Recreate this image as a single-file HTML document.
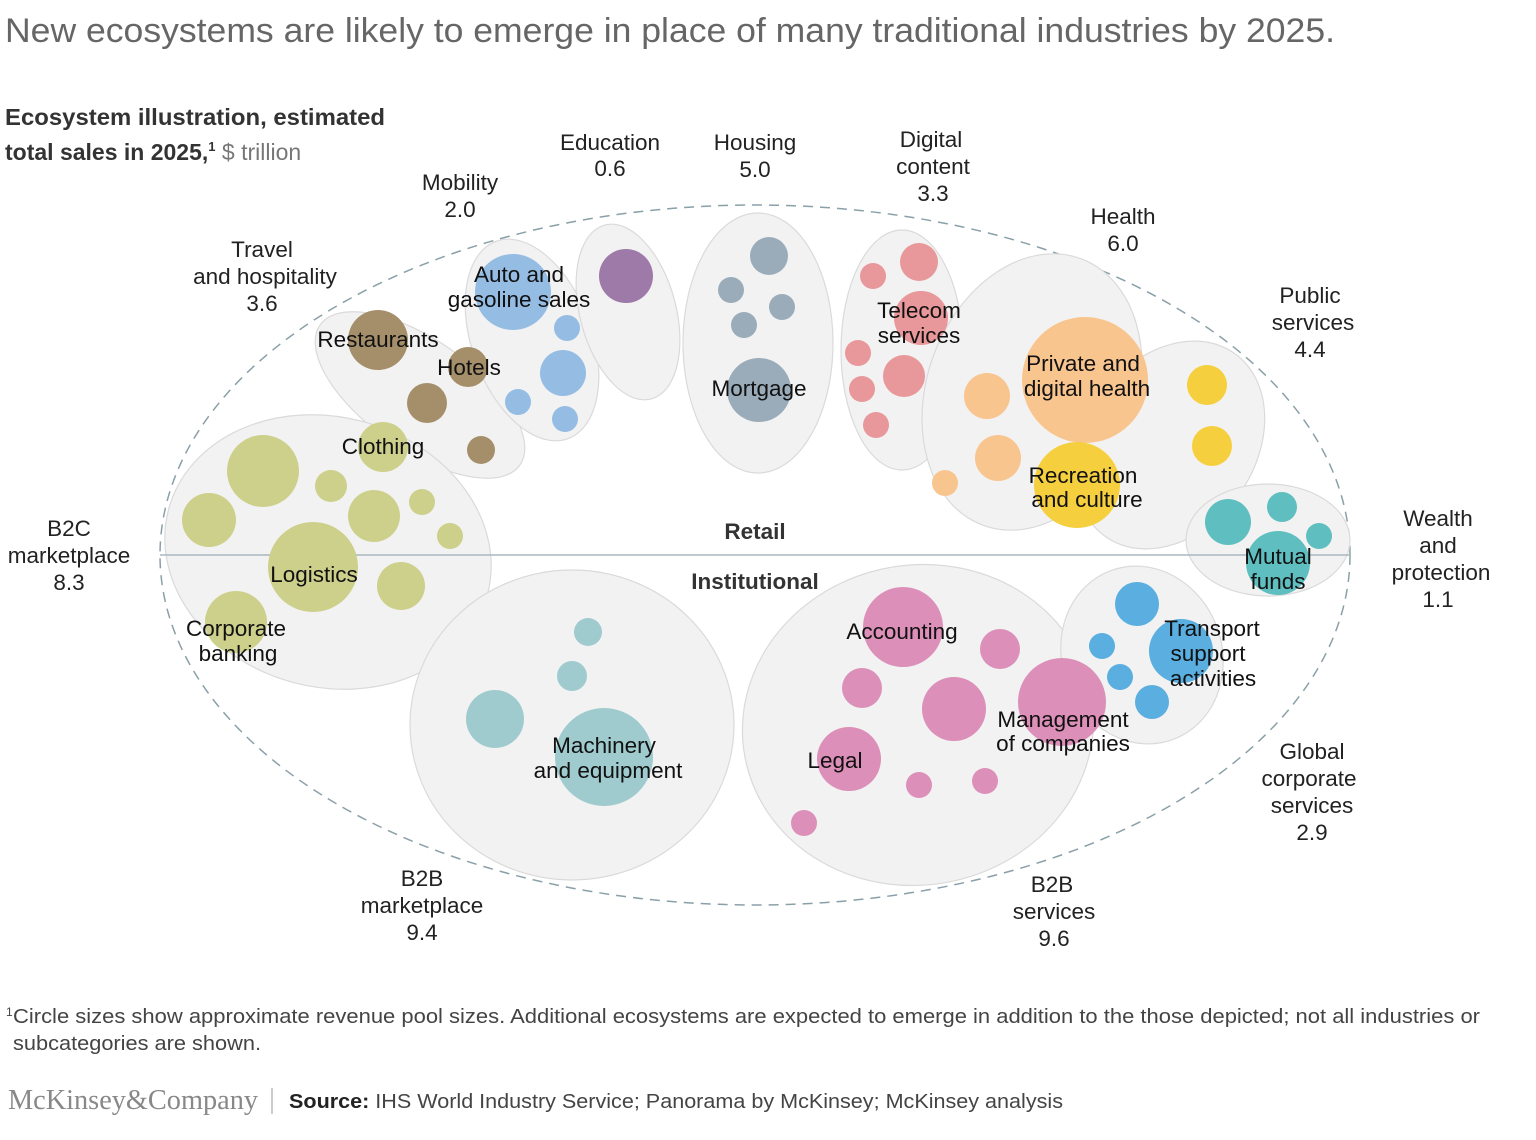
<!DOCTYPE html>
<html><head><meta charset="utf-8"><style>
body{margin:0;background:#fff;}
svg text{font-family:"Liberation Sans",Arial,sans-serif;}
</style></head><body>
<svg width="1536" height="1135" viewBox="0 0 1536 1135" xmlns="http://www.w3.org/2000/svg">
<text x="5" y="42" font-size="34" fill="#666" textLength="1330" lengthAdjust="spacingAndGlyphs">New ecosystems are likely to emerge in place of many traditional industries by 2025.</text>
<text x="5" y="125" font-size="23" font-weight="bold" fill="#333" textLength="380" lengthAdjust="spacingAndGlyphs">Ecosystem illustration, estimated</text>
<text x="5" y="160" font-size="23" font-weight="bold" fill="#333">total sales in 2025,<tspan font-size="13" dy="-9">1</tspan><tspan dy="9" font-weight="normal" fill="#777"> $ trillion</tspan></text>

<ellipse cx="755" cy="555" rx="595" ry="350" fill="none" stroke="#8aa0a8" stroke-width="1.5" stroke-dasharray="10,7"/>
<g fill="#f2f2f2" stroke="#dadada" stroke-width="1.2">
<ellipse cx="420" cy="395" rx="122" ry="55" transform="rotate(35 420 395)"/>
<ellipse cx="532" cy="340" rx="60" ry="105" transform="rotate(-20 532 340)"/>
<ellipse cx="628" cy="312" rx="48" ry="90" transform="rotate(-15 628 312)"/>
<ellipse cx="758" cy="343" rx="75" ry="130"/>
<ellipse cx="902" cy="350" rx="61" ry="120"/>
<ellipse cx="1032" cy="392" rx="105" ry="142" transform="rotate(20 1032 392)"/>
<ellipse cx="1170" cy="445" rx="85" ry="112" transform="rotate(35 1170 445)"/>
<ellipse cx="1268" cy="540" rx="82" ry="56"/>
<ellipse cx="328" cy="552" rx="165" ry="135" transform="rotate(15 328 552)"/>
<ellipse cx="572" cy="725" rx="162" ry="155"/>
<ellipse cx="918" cy="725" rx="176" ry="160" transform="rotate(-10 918 725)"/>
<ellipse cx="1142" cy="655" rx="80" ry="90" transform="rotate(-20 1142 655)"/>
</g>
<line x1="160" y1="555" x2="1350" y2="555" stroke="#a8b8be" stroke-width="1.5"/>

<g>
<g fill="#a58f6a"><circle cx="378" cy="340" r="30"/><circle cx="468" cy="367" r="20"/><circle cx="427" cy="403" r="20"/><circle cx="481" cy="450" r="14"/></g>
<g fill="#95bde4"><circle cx="513" cy="292" r="38"/><circle cx="567" cy="328" r="13"/><circle cx="563" cy="373" r="23"/><circle cx="518" cy="402" r="13"/><circle cx="565" cy="419" r="13"/></g>
<circle cx="626" cy="276" r="27" fill="#9e7aa8"/>
<g fill="#9aacba"><circle cx="769" cy="256" r="19"/><circle cx="731" cy="290" r="13"/><circle cx="782" cy="307" r="13"/><circle cx="744" cy="325" r="13"/><circle cx="759" cy="390" r="32"/></g>
<g fill="#e8979a"><circle cx="919" cy="262" r="19"/><circle cx="873" cy="276" r="13"/><circle cx="921" cy="318" r="27"/><circle cx="858" cy="353" r="13"/><circle cx="904" cy="376" r="21"/><circle cx="862" cy="389" r="13"/><circle cx="876" cy="425" r="13"/></g>
<g fill="#f9c58f"><circle cx="1085" cy="380" r="63"/><circle cx="987" cy="396" r="23"/><circle cx="998" cy="458" r="23"/><circle cx="945" cy="483" r="13"/></g>
<g fill="#f5cf3e"><circle cx="1077" cy="485" r="43"/><circle cx="1207" cy="385" r="20"/><circle cx="1212" cy="446" r="20"/></g>
<g fill="#5fbfc0"><circle cx="1228" cy="522" r="23"/><circle cx="1282" cy="507" r="15"/><circle cx="1319" cy="536" r="13"/><circle cx="1278" cy="563" r="32"/></g>
<g fill="#cdd08a"><circle cx="383" cy="447" r="25"/><circle cx="263" cy="471" r="36"/><circle cx="331" cy="486" r="16"/><circle cx="209" cy="520" r="27"/><circle cx="374" cy="516" r="26"/><circle cx="422" cy="502" r="13"/><circle cx="450" cy="536" r="13"/><circle cx="313" cy="567" r="45"/><circle cx="401" cy="586" r="24"/><circle cx="236" cy="622" r="31"/></g>
<g fill="#9fcbcf"><circle cx="588" cy="632" r="14"/><circle cx="572" cy="676" r="15"/><circle cx="495" cy="719" r="29"/><circle cx="604" cy="757" r="49"/></g>
<g fill="#dc8fb8"><circle cx="903" cy="627" r="40"/><circle cx="1000" cy="649" r="20"/><circle cx="862" cy="688" r="20"/><circle cx="954" cy="709" r="32"/><circle cx="1062" cy="702" r="44"/><circle cx="849" cy="759" r="32"/><circle cx="919" cy="785" r="13"/><circle cx="985" cy="781" r="13"/><circle cx="804" cy="823" r="13"/></g>
<g fill="#5aaee0"><circle cx="1137" cy="604" r="22"/><circle cx="1102" cy="646" r="13"/><circle cx="1181" cy="651" r="32"/><circle cx="1120" cy="677" r="13"/><circle cx="1152" cy="702" r="17"/></g>
</g>

<g font-size="22.5" fill="#111" text-anchor="middle">
<text x="519" y="282">Auto and</text><text x="519" y="307">gasoline sales</text>
<text x="378" y="347">Restaurants</text>
<text x="469" y="375">Hotels</text>
<text x="383" y="454">Clothing</text>
<text x="759" y="396">Mortgage</text>
<text x="919" y="318">Telecom</text><text x="919" y="343">services</text>
<text x="1083" y="371">Private and</text><text x="1087" y="396">digital health</text>
<text x="1083" y="483">Recreation</text><text x="1087" y="507">and culture</text>
<text x="1278" y="564">Mutual</text><text x="1278" y="589">funds</text>
<text x="314" y="582">Logistics</text>
<text x="236" y="636">Corporate</text><text x="238" y="661">banking</text>
<text x="604" y="753">Machinery</text><text x="608" y="778">and equipment</text>
<text x="902" y="639">Accounting</text>
<text x="1212" y="636">Transport</text><text x="1208" y="661">support</text><text x="1213" y="686">activities</text>
<text x="1063" y="727">Management</text><text x="1063" y="751">of companies</text>
<text x="835" y="768">Legal</text>
<text x="755" y="539" font-weight="bold" fill="#333">Retail</text>
<text x="755" y="589" font-weight="bold" fill="#333">Institutional</text>
</g>
<g font-size="22.5" fill="#222" text-anchor="middle">
<text x="610" y="150">Education</text><text x="610" y="176">0.6</text>
<text x="755" y="150">Housing</text><text x="755" y="177">5.0</text>
<text x="931" y="147">Digital</text><text x="933" y="174">content</text><text x="933" y="201">3.3</text>
<text x="460" y="190">Mobility</text><text x="460" y="217">2.0</text>
<text x="262" y="257">Travel</text><text x="265" y="284">and hospitality</text><text x="262" y="311">3.6</text>
<text x="1123" y="224">Health</text><text x="1123" y="251">6.0</text>
<text x="1310" y="303">Public</text><text x="1313" y="330">services</text><text x="1310" y="357">4.4</text>
<text x="69" y="536">B2C</text><text x="69" y="563">marketplace</text><text x="69" y="590">8.3</text>
<text x="1438" y="526">Wealth</text><text x="1438" y="553">and</text><text x="1441" y="580">protection</text><text x="1438" y="607">1.1</text>
<text x="1312" y="759">Global</text><text x="1309" y="786">corporate</text><text x="1312" y="813">services</text><text x="1312" y="840">2.9</text>
<text x="422" y="886">B2B</text><text x="422" y="913">marketplace</text><text x="422" y="940">9.4</text>
<text x="1052" y="892">B2B</text><text x="1054" y="919">services</text><text x="1054" y="946">9.6</text>
</g>
<text x="6" y="1016" font-size="12" fill="#444">1</text>
<text x="13" y="1023" font-size="20" fill="#444" textLength="1467" lengthAdjust="spacingAndGlyphs">Circle sizes show approximate revenue pool sizes. Additional ecosystems are expected to emerge in addition to the those depicted; not all industries or</text>
<text x="13" y="1050" font-size="20" fill="#444" textLength="248" lengthAdjust="spacingAndGlyphs">subcategories are shown.</text>
<text x="8" y="1109" font-size="28" fill="#888" style="font-family:'Liberation Serif',serif" textLength="250" lengthAdjust="spacingAndGlyphs">McKinsey&amp;Company</text>
<line x1="272" y1="1088" x2="272" y2="1114" stroke="#bbb" stroke-width="1.5"/>
<text x="289" y="1108" font-size="20" fill="#444" textLength="774" lengthAdjust="spacingAndGlyphs"><tspan font-weight="bold" fill="#222">Source:</tspan> IHS World Industry Service; Panorama by McKinsey; McKinsey analysis</text>
</svg>
</body></html>
